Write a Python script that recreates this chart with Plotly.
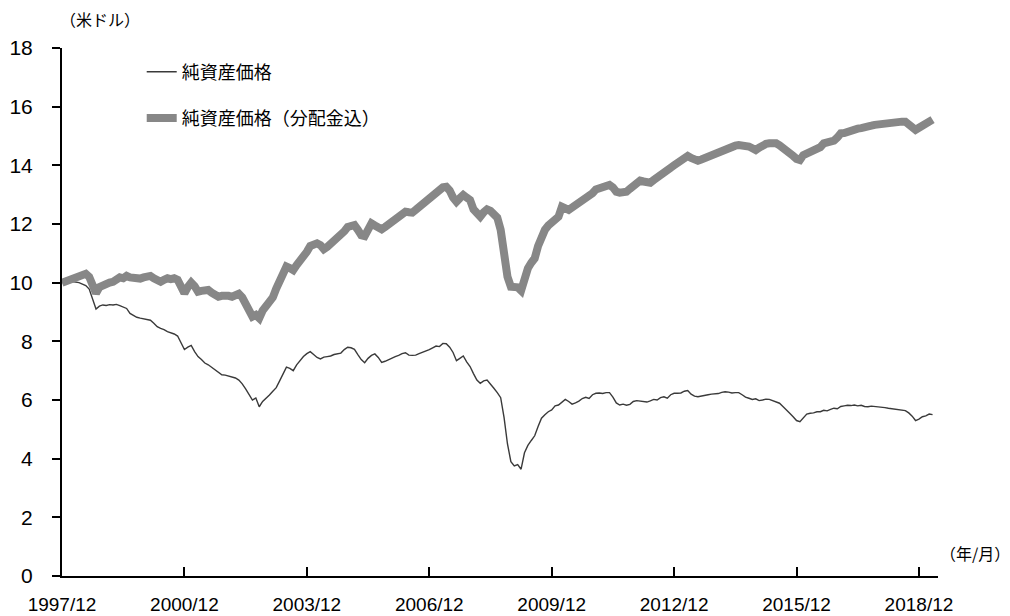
import pandas as pd
import plotly.graph_objects as go

# Monthly observations, 1997/12 .. 2019/04
months = list(pd.period_range("1997-12", periods=257, freq="M").strftime("%Y/%m"))

nav = [
    10.00,
    10.00, 10.02, 10.04, 10.03, 10.00, 9.95, 9.90, 9.78, 9.45, 9.10, 9.20, 9.24,
    9.22, 9.25, 9.24, 9.26, 9.22, 9.18, 9.12, 8.95, 8.88, 8.82, 8.79, 8.76,
    8.74, 8.72, 8.62, 8.50, 8.44, 8.40, 8.33, 8.30, 8.25, 8.18, 7.95, 7.72,
    7.80, 7.86, 7.65, 7.48, 7.38, 7.26, 7.20, 7.12, 7.03, 6.95, 6.86, 6.85,
    6.82, 6.80, 6.75, 6.68, 6.55, 6.38, 6.20, 6.00, 6.07, 5.77, 5.95, 6.05,
    6.17, 6.30, 6.42, 6.65, 6.90, 7.12, 7.08, 7.00, 7.20, 7.36, 7.48, 7.58,
    7.65, 7.55, 7.45, 7.40, 7.46, 7.48, 7.50, 7.55, 7.58, 7.60, 7.72, 7.80,
    7.78, 7.73, 7.55, 7.38, 7.27, 7.42, 7.52, 7.57, 7.45, 7.28, 7.32, 7.38,
    7.42, 7.48, 7.52, 7.58, 7.61, 7.53, 7.52, 7.53, 7.58, 7.62, 7.66, 7.72,
    7.78, 7.84, 7.82, 7.93, 7.92, 7.80, 7.62, 7.34, 7.42, 7.50, 7.30, 7.14,
    6.90, 6.68, 6.57, 6.65, 6.68, 6.55, 6.40, 6.25, 6.08, 5.40, 4.50, 3.90,
    3.75, 3.80, 3.64, 4.20, 4.45, 4.62, 4.78, 5.10, 5.38, 5.50, 5.60, 5.66,
    5.80, 5.83, 5.92, 6.02, 5.95, 5.86, 5.90, 5.96, 6.05, 6.09, 6.05, 6.18,
    6.23, 6.24, 6.22, 6.25, 6.25, 6.10, 5.90, 5.83, 5.86, 5.82, 5.85, 5.95,
    5.98, 5.96, 5.94, 5.93, 5.97, 6.02, 6.00, 6.08, 6.11, 6.06, 6.18, 6.23,
    6.23, 6.24, 6.30, 6.32, 6.20, 6.13, 6.11, 6.14, 6.16, 6.18, 6.20, 6.21,
    6.22, 6.26, 6.28, 6.27, 6.24, 6.25, 6.25, 6.18, 6.10, 6.06, 6.02, 6.04,
    5.98, 6.00, 6.03, 6.02, 5.98, 5.92, 5.89, 5.78, 5.68, 5.55, 5.43, 5.30,
    5.26, 5.40, 5.52, 5.55, 5.56, 5.60, 5.60, 5.65, 5.63, 5.68, 5.72, 5.70,
    5.78, 5.80, 5.82, 5.81, 5.83, 5.80, 5.82, 5.78, 5.77, 5.79, 5.78, 5.76,
    5.77, 5.74, 5.72, 5.70, 5.68, 5.68, 5.66, 5.64, 5.56, 5.45, 5.30, 5.35,
    5.43, 5.46, 5.52, 5.50,
]

nav_div = [
    10.00,
    10.05, 10.10, 10.15, 10.18, 10.22, 10.25, 10.30, 10.20, 9.85, 9.64, 9.85, 9.92,
    9.95, 10.00, 10.03, 10.10, 10.18, 10.15, 10.23, 10.18, 10.15, 10.12, 10.14, 10.18,
    10.20, 10.23, 10.15, 10.05, 10.03, 10.10, 10.15, 10.12, 10.15, 10.10, 9.85, 9.64,
    9.85, 10.00, 9.88, 9.69, 9.72, 9.75, 9.75, 9.66, 9.55, 9.52, 9.55, 9.58,
    9.55, 9.52, 9.56, 9.62, 9.50, 9.24, 9.00, 8.84, 8.90, 8.79, 9.05, 9.20,
    9.40, 9.50, 9.80, 10.10, 10.38, 10.55, 10.50, 10.43, 10.60, 10.72, 10.85, 11.05,
    11.25, 11.30, 11.34, 11.28, 11.14, 11.22, 11.32, 11.40, 11.50, 11.60, 11.75, 11.90,
    11.95, 11.96, 11.80, 11.62, 11.59, 11.85, 12.02, 11.95, 11.85, 11.82, 11.90, 11.98,
    12.05, 12.15, 12.25, 12.35, 12.42, 12.40, 12.39, 12.48, 12.58, 12.65, 12.75, 12.88,
    12.98, 13.10, 13.15, 13.25, 13.27, 13.14, 12.90, 12.76, 12.88, 12.99, 12.90, 12.82,
    12.50, 12.37, 12.25, 12.40, 12.50, 12.45, 12.31, 12.22, 11.80, 10.90, 10.20, 9.86,
    9.85, 9.84, 9.73, 10.20, 10.49, 10.68, 10.83, 11.25, 11.63, 11.80, 11.95, 12.05,
    12.19, 12.25, 12.59, 12.50, 12.48, 12.56, 12.63, 12.71, 12.80, 12.86, 12.93, 13.05,
    13.18, 13.22, 13.25, 13.30, 13.33, 13.25, 13.10, 13.07, 13.08, 13.10, 13.20, 13.30,
    13.40, 13.48, 13.45, 13.42, 13.41, 13.50, 13.60, 13.70, 13.79, 13.86, 13.92, 14.00,
    14.07, 14.12, 14.20, 14.32, 14.25, 14.18, 14.16, 14.20, 14.25, 14.32, 14.39, 14.42,
    14.46, 14.50, 14.55, 14.60, 14.65, 14.67, 14.69, 14.68, 14.66, 14.64, 14.58, 14.52,
    14.60, 14.68, 14.73, 14.75, 14.76, 14.75, 14.68, 14.60, 14.55, 14.45, 14.32, 14.22,
    14.18, 14.35, 14.41, 14.45, 14.50, 14.55, 14.62, 14.75, 14.78, 14.82, 14.84, 14.95,
    15.09, 15.10, 15.15, 15.18, 15.23, 15.25, 15.27, 15.28, 15.32, 15.35, 15.38, 15.40,
    15.41, 15.45, 15.44, 15.46, 15.48, 15.47, 15.49, 15.49, 15.42, 15.30, 15.21, 15.28,
    15.34, 15.42, 15.52, 15.56,
]

series_names = ["純資産価格", "純資産価格（分配金込）"]
x_ticks = ["1997/12", "2000/12", "2003/12", "2006/12", "2009/12", "2012/12", "2015/12", "2018/12"]
y_unit = "（米ドル）"
x_unit = "（年/月）"

CJK = "Noto Sans CJK JP"

fig = go.Figure()
fig.add_trace(go.Scatter(x=months, y=nav, mode="lines", name=series_names[0],
                         line=dict(color="#3a3a3a", width=1.4), legend="legend"))
fig.add_trace(go.Scatter(x=months, y=nav_div, mode="lines", name=series_names[1],
                         line=dict(color="#878787", width=8), legend="legend2"))

# The page body has an 8px margin, so the figure is sized/offset to compensate.
fig.update_layout(
    width=1002, height=608,
    margin=dict(l=54, r=72, t=40, b=40, autoexpand=False),
    plot_bgcolor="white", paper_bgcolor="white",
    xaxis=dict(type="category", range=[0, 257.6], tickmode="array",
               tickvals=x_ticks, ticktext=x_ticks, automargin=False,
               ticks="inside", ticklen=9, tickwidth=1.5, tickcolor="black",
               showline=True, linecolor="black", linewidth=2,
               showgrid=False, zeroline=False,
               ticklabelstandoff=10,
               tickfont=dict(family="Liberation Sans, Arial", size=19, color="black")),
    yaxis=dict(range=[0, 18], dtick=2, tick0=0, automargin=False,
               ticks="outside", ticklen=8, tickwidth=2, tickcolor="black",
               showline=True, linecolor="black", linewidth=2,
               showgrid=False, zeroline=False,
               ticklabelstandoff=15,
               tickfont=dict(family="Liberation Sans, Arial", size=21, color="black")),
    yaxis2=dict(range=[0, 18], dtick=2, tick0=0, overlaying="y", side="left", anchor="x",
                ticks="inside", ticklen=8, tickwidth=2, tickcolor="black", automargin=False,
                showticklabels=False, showline=False, showgrid=False, zeroline=False),
    legend=dict(x=0.091, y=0.9545, xanchor="left", yanchor="middle",
                bgcolor="rgba(0,0,0,0)", borderwidth=0,
                font=dict(family=CJK, size=18, color="black")),
    legend2=dict(x=0.091, y=0.867, xanchor="left", yanchor="middle",
                 bgcolor="rgba(0,0,0,0)", borderwidth=0,
                 font=dict(family=CJK, size=18, color="black")),
    showlegend=True,
)

fig.add_annotation(text=y_unit, xref="paper", yref="paper", x=0.0434, y=1.055,
                   xanchor="center", yanchor="middle",
                   showarrow=False, font=dict(family=CJK, size=16, color="black"))
fig.add_annotation(text=x_unit, xref="paper", yref="paper", x=1.042, y=0.0436,
                   xanchor="center", yanchor="middle",
                   showarrow=False, font=dict(family=CJK, size=16, color="black"))

fig.write_html("out.html")
